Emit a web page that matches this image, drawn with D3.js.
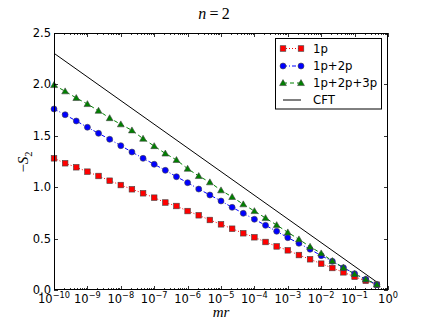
<!DOCTYPE html>
<html><head><meta charset="utf-8">
<script src="https://cdn.jsdelivr.net/npm/d3@7"></script>
<style>html,body{margin:0;padding:0;background:#fff;}svg{display:block;}</style>
</head><body>
<svg id="c" width="431" height="323"></svg>
<script>
const mr = [1e-10, 2.154e-10, 4.642e-10, 1e-9, 2.154e-9, 4.642e-9, 1e-8, 2.154e-8, 4.642e-8, 1e-7,
            2.154e-7, 4.642e-7, 1e-6, 2.154e-6, 4.642e-6, 1e-5, 2.154e-5, 4.642e-5, 1e-4, 2.154e-4,
            4.642e-4, 1e-3, 2.154e-3, 4.642e-3, 1e-2, 2.154e-2, 4.642e-2, 1e-1, 2.154e-1, 4.642e-1];
const s1p = [1.281, 1.233, 1.194, 1.151, 1.109, 1.063, 1.021, 0.980, 0.941, 0.898,
             0.851, 0.817, 0.768, 0.727, 0.681, 0.639, 0.596, 0.552, 0.513, 0.467,
             0.424, 0.386, 0.340, 0.299, 0.256, 0.214, 0.172, 0.129, 0.090, 0.052];
const s12p = [1.761, 1.705, 1.644, 1.583, 1.524, 1.466, 1.404, 1.342, 1.281, 1.223,
              1.164, 1.102, 1.044, 0.982, 0.924, 0.866, 0.804, 0.746, 0.688, 0.629,
              0.571, 0.509, 0.454, 0.396, 0.334, 0.279, 0.217, 0.159, 0.104, 0.052];
const s123p = [1.994, 1.933, 1.868, 1.809, 1.744, 1.672, 1.612, 1.553, 1.472, 1.400,
               1.328, 1.265, 1.180, 1.109, 1.048, 0.970, 0.905, 0.834, 0.768, 0.700,
               0.632, 0.561, 0.493, 0.421, 0.357, 0.282, 0.217, 0.156, 0.104, 0.055];
const cftX = [1e-10, 4.642e-1];
const cftY = [2.303, 0.077];
const xTickExp = [-10, -9, -8, -7, -6, -5, -4, -3, -2, -1, 0];
const yTicks = [0.0, 0.5, 1.0, 1.5, 2.0, 2.5];
const seriesNames = ["1p", "1p+2p", "1p+2p+3p", "CFT"];

const L = 54, R = 388, T = 33, B = 290;
const svg = d3.select("#c");
const x = d3.scaleLog().domain([1e-10, 1]).range([L, R]);
const y = d3.scaleLinear().domain([0, 2.5]).range([B, T]);

const series = [
  {name: seriesNames[0], vals: s1p, color: "#ff0000", dash: "1,2", marker: "square"},
  {name: seriesNames[1], vals: s12p, color: "#0000ff", dash: "4,2,1,2", marker: "circle"},
  {name: seriesNames[2], vals: s123p, color: "#008000", dash: "4,3", marker: "triangle"}
];

const g = svg.append("g");
const line = d3.line().x(d => x(d[0])).y(d => y(d[1]));

// CFT
g.append("path").datum(cftX.map((v, i) => [v, cftY[i]]))
  .attr("d", line).attr("fill", "none").attr("stroke", "#000").attr("stroke-width", 1);

function drawMarker(sel, type, cx, cy, color) {
  if (type === "square") {
    sel.append("rect").attr("x", cx - 2.8).attr("y", cy - 2.8).attr("width", 5.6).attr("height", 5.6)
      .attr("fill", color).attr("stroke", "#444").attr("stroke-width", 0.6);
  } else if (type === "circle") {
    sel.append("circle").attr("cx", cx).attr("cy", cy).attr("r", 3)
      .attr("fill", color).attr("stroke", "#444").attr("stroke-width", 0.6);
  } else {
    const s = 3.4;
    sel.append("path").attr("d", `M${cx},${cy - s}L${cx + s},${cy + s * 0.75}L${cx - s},${cy + s * 0.75}Z`)
      .attr("fill", color).attr("stroke", "#444").attr("stroke-width", 0.6);
  }
}

series.forEach(s => {
  const pts = mr.map((v, i) => [v, s.vals[i]]);
  g.append("path").datum(pts).attr("d", line).attr("fill", "none")
    .attr("stroke", s.color).attr("stroke-width", 1).attr("stroke-dasharray", s.dash);
});
series.forEach(s => {
  const mg = g.append("g");
  mr.forEach((v, i) => drawMarker(mg, s.marker, x(v), y(s.vals[i]), s.color));
});

// frame
svg.append("rect").attr("x", L + 0.5).attr("y", T + 0.5).attr("width", R - L - 1).attr("height", B - T - 1)
  .attr("fill", "none").attr("stroke", "#000").attr("stroke-width", 1);

// x ticks
const tickG = svg.append("g").attr("stroke", "#000").attr("stroke-width", 0.8);
xTickExp.forEach(e => {
  const px = Math.round(x(Math.pow(10, e))) + 0.5;
  tickG.append("line").attr("x1", px).attr("x2", px).attr("y1", B).attr("y2", B - 4);
  tickG.append("line").attr("x1", px).attr("x2", px).attr("y1", T).attr("y2", T + 4);
  if (e < 0) {
    for (let m = 2; m <= 9; m++) {
      const mx = Math.round(x(m * Math.pow(10, e))) + 0.5;
      tickG.append("line").attr("x1", mx).attr("x2", mx).attr("y1", B).attr("y2", B - 2);
      tickG.append("line").attr("x1", mx).attr("x2", mx).attr("y1", T).attr("y2", T + 2);
    }
  }
  const t = svg.append("text").attr("x", x(Math.pow(10, e))).attr("y", 303)
    .attr("text-anchor", "middle").attr("font-family", "DejaVu Sans").attr("font-size", 11.5);
  t.append("tspan").text("10");
  t.append("tspan").attr("dy", -5).attr("font-size", 8.2).text(e < 0 ? "\u2212" + (-e) : String(e));
});

// y ticks
yTicks.forEach(v => {
  const py = Math.round(y(v)) + 0.5;
  tickG.append("line").attr("x1", L).attr("x2", L + 4).attr("y1", py).attr("y2", py);
  tickG.append("line").attr("x1", R).attr("x2", R - 4).attr("y1", py).attr("y2", py);
  svg.append("text").attr("x", 51).attr("y", y(v) + 4).attr("text-anchor", "end")
    .attr("font-family", "DejaVu Sans").attr("font-size", 11.5).text(v.toFixed(1));
});

// title
const title = svg.append("text").attr("x", 214).attr("y", 19).attr("text-anchor", "middle")
  .attr("font-family", "Liberation Serif").attr("font-size", 16);
title.append("tspan").attr("font-style", "italic").text("n");
title.append("tspan").text("\u2009=\u20092");

// x label
svg.append("text").attr("x", 221).attr("y", 317).attr("text-anchor", "middle")
  .attr("font-family", "Liberation Serif").attr("font-style", "italic").attr("font-size", 15).text("mr");

// y label
const yl = svg.append("text").attr("transform", "translate(28,162) rotate(-90)").attr("text-anchor", "middle")
  .attr("font-family", "Liberation Serif").attr("font-size", 15);
yl.append("tspan").text("\u2212");
yl.append("tspan").attr("font-style", "italic").text("S");
yl.append("tspan").attr("dy", 4).attr("font-size", 10.5).text("2");

// legend
const lg = svg.append("g");
lg.append("rect").attr("x", 275.5).attr("y", 38.5).attr("width", 106).attr("height", 70.5)
  .attr("fill", "#fff").attr("stroke", "#000").attr("stroke-width", 1);
const legY = [48.5, 66, 83, 100];
const allLeg = series.concat([{name: seriesNames[3], color: "#000", dash: null, marker: null}]);
allLeg.forEach((s, i) => {
  const ly = legY[i];
  const ln = lg.append("line").attr("x1", 283).attr("x2", 301).attr("y1", ly).attr("y2", ly)
    .attr("stroke", s.color).attr("stroke-width", 1);
  if (s.dash) ln.attr("stroke-dasharray", s.dash);
  if (s.marker) { drawMarker(lg, s.marker, 283, ly, s.color); drawMarker(lg, s.marker, 301, ly, s.color); }
  lg.append("text").attr("x", 313).attr("y", ly + 4.2).attr("font-family", "DejaVu Sans")
    .attr("font-size", 11.7).text(s.name);
});
</script>
</body></html>
